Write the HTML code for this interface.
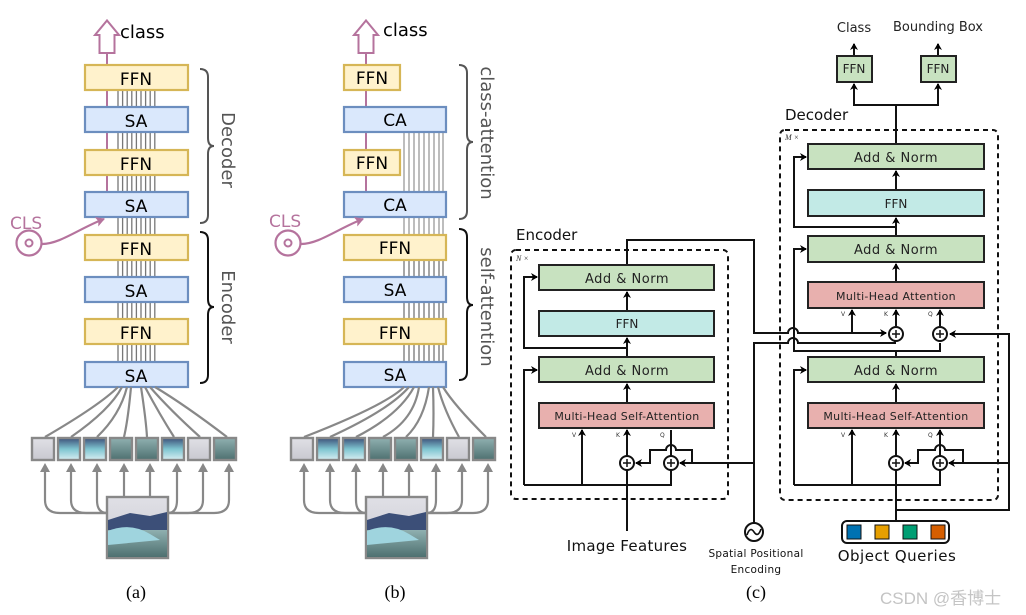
<!DOCTYPE html>
<html><head><meta charset="utf-8"><style>
html,body{margin:0;padding:0;background:#fff;}
svg{display:block;}
</style></head><body>
<svg width="1026" height="615" viewBox="0 0 1026 615" xmlns="http://www.w3.org/2000/svg" font-family="DejaVu Sans, Liberation Sans, sans-serif">
<defs>
<marker id="ah" markerWidth="8" markerHeight="8" refX="6" refY="4" orient="auto" markerUnits="userSpaceOnUse"><path d="M0,0 L7,4 L0,8 L2,4 Z" fill="#000"/></marker>
<marker id="ap" markerWidth="10" markerHeight="10" refX="8" refY="5" orient="auto" markerUnits="userSpaceOnUse"><path d="M0,0 L9,5 L0,10 L2,5 Z" fill="#b5739d"/></marker>
<linearGradient id="sky" x1="0" y1="0" x2="0" y2="1"><stop offset="0" stop-color="#e0e0e6"/><stop offset="1" stop-color="#c8c8d0"/></linearGradient>
<linearGradient id="sea" x1="0" y1="0" x2="0" y2="1"><stop offset="0" stop-color="#8fb0b0"/><stop offset="1" stop-color="#4e7070"/></linearGradient>
<linearGradient id="ice" x1="0" y1="0" x2="0" y2="1"><stop offset="0" stop-color="#3c4f78"/><stop offset="0.5" stop-color="#7ec4d0"/><stop offset="1" stop-color="#d8eef2"/></linearGradient>
</defs>

<g id="panelA">
  <g stroke="#777" stroke-width="1.3">
    <line x1="118" y1="65" x2="118" y2="387"/><line x1="122.6" y1="65" x2="122.6" y2="387"/>
    <line x1="127.2" y1="65" x2="127.2" y2="387"/><line x1="131.8" y1="65" x2="131.8" y2="387"/>
    <line x1="136.4" y1="65" x2="136.4" y2="387"/><line x1="141" y1="65" x2="141" y2="387"/>
    <line x1="145.6" y1="65" x2="145.6" y2="387"/><line x1="150.2" y1="65" x2="150.2" y2="387"/>
    <line x1="154.8" y1="65" x2="154.8" y2="387"/>
  </g>
  <line x1="107" y1="53" x2="107" y2="192" stroke="#b5739d" stroke-width="2"/>
  <path d="M99.5 53 V35 H95 L107 20.5 L119 35 H114.5 V53 Z" fill="#fff" stroke="#b5739d" stroke-width="2"/>
  <text x="120" y="38" font-size="18" fill="#000">class</text>
  <g stroke-width="2.2">
    <rect x="85" y="65" width="103" height="25" fill="#fff2cc" stroke="#d6b656"/>
    <rect x="85" y="107" width="103" height="25" fill="#dae8fc" stroke="#6c8ebf"/>
    <rect x="85" y="150" width="103" height="25" fill="#fff2cc" stroke="#d6b656"/>
    <rect x="85" y="192" width="103" height="25" fill="#dae8fc" stroke="#6c8ebf"/>
    <rect x="85" y="235" width="103" height="25" fill="#fff2cc" stroke="#d6b656"/>
    <rect x="85" y="277" width="103" height="25" fill="#dae8fc" stroke="#6c8ebf"/>
    <rect x="85" y="319" width="103" height="25" fill="#fff2cc" stroke="#d6b656"/>
    <rect x="85" y="362" width="103" height="25" fill="#dae8fc" stroke="#6c8ebf"/>
  </g>
  <g font-size="17" text-anchor="middle" fill="#000">
    <text x="136" y="85">FFN</text><text x="136" y="127">SA</text>
    <text x="136" y="170">FFN</text><text x="136" y="212">SA</text>
    <text x="136" y="255">FFN</text><text x="136" y="297">SA</text>
    <text x="136" y="339">FFN</text><text x="136" y="382">SA</text>
  </g>
  <path d="M200 69 Q208 69 208 77 V138 Q208 146 214 146 Q208 146 208 154 V215 Q208 223 200 223" fill="none" stroke="#555" stroke-width="2"/>
  <path d="M200 232 Q208 232 208 240 V299 Q208 307 214 307 Q208 307 208 315 V375 Q208 383 200 383" fill="none" stroke="#111" stroke-width="2"/>
  <text transform="translate(222,150) rotate(90)" font-size="18" fill="#555" text-anchor="middle">Decoder</text>
  <text transform="translate(222,307) rotate(90)" font-size="18" fill="#555" text-anchor="middle">Encoder</text>
  <text x="10" y="229" font-size="17" fill="#b5739d">CLS</text>
  <circle cx="29" cy="243" r="12.5" fill="#fff" stroke="#b5739d" stroke-width="2.2"/>
  <circle cx="29" cy="243" r="3.5" fill="none" stroke="#b5739d" stroke-width="2"/>
  <path d="M42 244 C60 244 80 228 104 219" fill="none" stroke="#b5739d" stroke-width="2.2" marker-end="url(#ap)"/>
</g>

<g id="panelB">
  <g stroke="#999" stroke-width="1.3">
    <line x1="404" y1="132" x2="404" y2="235"/><line x1="409" y1="132" x2="409" y2="235"/>
    <line x1="414" y1="132" x2="414" y2="235"/><line x1="419" y1="132" x2="419" y2="235"/>
    <line x1="424" y1="132" x2="424" y2="235"/><line x1="429" y1="132" x2="429" y2="235"/>
    <line x1="434" y1="132" x2="434" y2="235"/><line x1="439" y1="132" x2="439" y2="235"/>
    <line x1="443" y1="132" x2="443" y2="235"/>
  </g>
  <g stroke="#777" stroke-width="1.3">
    <line x1="404" y1="235" x2="404" y2="387"/><line x1="409" y1="235" x2="409" y2="387"/>
    <line x1="414" y1="235" x2="414" y2="387"/><line x1="419" y1="235" x2="419" y2="387"/>
    <line x1="424" y1="235" x2="424" y2="387"/><line x1="429" y1="235" x2="429" y2="387"/>
    <line x1="434" y1="235" x2="434" y2="387"/><line x1="439" y1="235" x2="439" y2="387"/>
    <line x1="443" y1="235" x2="443" y2="387"/>
  </g>
  <line x1="366" y1="53" x2="366" y2="192" stroke="#b5739d" stroke-width="2"/>
  <path d="M358.5 53 V35 H354 L366 20.5 L378 35 H373.5 V53 Z" fill="#fff" stroke="#b5739d" stroke-width="2"/>
  <text x="383" y="36" font-size="18" fill="#000">class</text>
  <g stroke-width="2.2">
    <rect x="344" y="65" width="56" height="25" fill="#fff2cc" stroke="#d6b656"/>
    <rect x="344" y="107" width="102" height="25" fill="#dae8fc" stroke="#6c8ebf"/>
    <rect x="344" y="150" width="56" height="25" fill="#fff2cc" stroke="#d6b656"/>
    <rect x="344" y="192" width="102" height="25" fill="#dae8fc" stroke="#6c8ebf"/>
    <rect x="344" y="235" width="102" height="25" fill="#fff2cc" stroke="#d6b656"/>
    <rect x="344" y="277" width="102" height="25" fill="#dae8fc" stroke="#6c8ebf"/>
    <rect x="344" y="319" width="102" height="25" fill="#fff2cc" stroke="#d6b656"/>
    <rect x="344" y="362" width="102" height="25" fill="#dae8fc" stroke="#6c8ebf"/>
  </g>
  <g font-size="17" text-anchor="middle" fill="#000">
    <text x="372" y="84">FFN</text><text x="395" y="126">CA</text>
    <text x="372" y="169">FFN</text><text x="395" y="211">CA</text>
    <text x="395" y="254">FFN</text><text x="395" y="296">SA</text>
    <text x="395" y="339">FFN</text><text x="395" y="381">SA</text>
  </g>
  <path d="M459 65 Q467 65 467 73 V134 Q467 142 473 142 Q467 142 467 150 V211 Q467 219 459 219" fill="none" stroke="#555" stroke-width="2"/>
  <path d="M459 229 Q467 229 467 237 V297 Q467 305 473 305 Q467 305 467 313 V372 Q467 380 459 380" fill="none" stroke="#111" stroke-width="2"/>
  <text transform="translate(481,133) rotate(90)" font-size="18" fill="#555" text-anchor="middle">class-attention</text>
  <text transform="translate(481,307) rotate(90)" font-size="18" fill="#555" text-anchor="middle">self-attention</text>
  <text x="269" y="227" font-size="17" fill="#b5739d">CLS</text>
  <circle cx="288" cy="243" r="12.5" fill="#fff" stroke="#b5739d" stroke-width="2.2"/>
  <circle cx="288" cy="243" r="3.5" fill="none" stroke="#b5739d" stroke-width="2"/>
  <path d="M301 244 C319 244 339 228 363 219" fill="none" stroke="#b5739d" stroke-width="2.2" marker-end="url(#ap)"/>
</g>

<g id="patchesA">
  <g fill="none" stroke="#888" stroke-width="2.2">
    <path d="M118 387 Q100 405 45 437"/><path d="M122 387 Q110 410 71 437"/>
    <path d="M127 387 Q120 415 97 437"/><path d="M131 387 Q128 420 124 437"/>
    <path d="M141 387 Q146 420 147 437"/><path d="M145 387 Q160 415 174 437"/>
    <path d="M150 387 Q170 410 200 437"/><path d="M155 387 Q185 405 227 437"/>
  </g>
  <g stroke="#888" stroke-width="2.4">
    <rect x="32" y="438" width="22" height="22" fill="url(#sky)"/>
    <rect x="58" y="438" width="22" height="22" fill="url(#ice)"/>
    <rect x="84" y="438" width="22" height="22" fill="url(#ice)"/>
    <rect x="110" y="438" width="22" height="22" fill="url(#sea)"/>
    <rect x="136" y="438" width="22" height="22" fill="url(#sea)"/>
    <rect x="162" y="438" width="22" height="22" fill="url(#ice)"/>
    <rect x="188" y="438" width="22" height="22" fill="url(#sky)"/>
    <rect x="214" y="438" width="22" height="22" fill="url(#sea)"/>
  </g>
  <g fill="none" stroke="#888" stroke-width="2.2">
    <path d="M45 470 V500 Q45 513 60 513 H107"/><path d="M71 470 V500 Q71 513 86 513 H107"/>
    <path d="M97 470 V500 Q97 513 107 513"/>
    <path d="M124 470 V496"/><path d="M150 470 V496"/>
    <path d="M177 470 V500 Q177 513 168 513"/>
    <path d="M203 470 V500 Q203 513 188 513 H168"/><path d="M229 470 V500 Q229 513 214 513 H168"/>
  </g>
  <g fill="#888">
    <path d="M40 472 L45 463 L50 472 Z"/><path d="M66 472 L71 463 L76 472 Z"/>
    <path d="M92 472 L97 463 L102 472 Z"/><path d="M119 472 L124 463 L129 472 Z"/>
    <path d="M145 472 L150 463 L155 472 Z"/><path d="M172 472 L177 463 L182 472 Z"/>
    <path d="M198 472 L203 463 L208 472 Z"/><path d="M224 472 L229 463 L234 472 Z"/>
  </g>
  <rect x="107" y="497" width="61" height="61" fill="url(#sky)" stroke="#888" stroke-width="2.4"/>
  <path d="M108 520 L130 513 L150 516 L167 512 L167 530 L108 532 Z" fill="#3c4f78"/>
  <rect x="108" y="530" width="59" height="27" fill="url(#sea)"/>
  <path d="M108 531 Q130 522 150 534 L160 540 L108 545 Z" fill="#9fd4de"/>
</g>

<g id="patchesB" transform="translate(259,0)">
  <g fill="none" stroke="#888" stroke-width="2.2">
    <path d="M145 387 Q127 405 45 437"/><path d="M150 387 Q130 410 71 437"/>
    <path d="M155 387 Q140 415 97 437"/><path d="M160 387 Q155 420 124 437"/>
    <path d="M170 387 Q165 420 147 437"/><path d="M174 387 Q175 415 174 437"/>
    <path d="M179 387 Q185 410 200 437"/><path d="M184 387 Q195 405 227 437"/>
  </g>
  <g stroke="#888" stroke-width="2.4">
    <rect x="32" y="438" width="22" height="22" fill="url(#sky)"/>
    <rect x="58" y="438" width="22" height="22" fill="url(#ice)"/>
    <rect x="84" y="438" width="22" height="22" fill="url(#ice)"/>
    <rect x="110" y="438" width="22" height="22" fill="url(#sea)"/>
    <rect x="136" y="438" width="22" height="22" fill="url(#sea)"/>
    <rect x="162" y="438" width="22" height="22" fill="url(#ice)"/>
    <rect x="188" y="438" width="22" height="22" fill="url(#sky)"/>
    <rect x="214" y="438" width="22" height="22" fill="url(#sea)"/>
  </g>
  <g fill="none" stroke="#888" stroke-width="2.2">
    <path d="M45 470 V500 Q45 513 60 513 H107"/><path d="M71 470 V500 Q71 513 86 513 H107"/>
    <path d="M97 470 V500 Q97 513 107 513"/>
    <path d="M124 470 V496"/><path d="M150 470 V496"/>
    <path d="M177 470 V500 Q177 513 168 513"/>
    <path d="M203 470 V500 Q203 513 188 513 H168"/><path d="M229 470 V500 Q229 513 214 513 H168"/>
  </g>
  <g fill="#888">
    <path d="M40 472 L45 463 L50 472 Z"/><path d="M66 472 L71 463 L76 472 Z"/>
    <path d="M92 472 L97 463 L102 472 Z"/><path d="M119 472 L124 463 L129 472 Z"/>
    <path d="M145 472 L150 463 L155 472 Z"/><path d="M172 472 L177 463 L182 472 Z"/>
    <path d="M198 472 L203 463 L208 472 Z"/><path d="M224 472 L229 463 L234 472 Z"/>
  </g>
  <rect x="107" y="497" width="61" height="61" fill="url(#sky)" stroke="#888" stroke-width="2.4"/>
  <path d="M108 520 L130 513 L150 516 L167 512 L167 530 L108 532 Z" fill="#3c4f78"/>
  <rect x="108" y="530" width="59" height="27" fill="url(#sea)"/>
  <path d="M108 531 Q130 522 150 534 L160 540 L108 545 Z" fill="#9fd4de"/>
</g>
<text x="136" y="598" font-size="18" font-family="Liberation Serif, serif" text-anchor="middle">(a)</text>
<text x="395" y="598" font-size="18" font-family="Liberation Serif, serif" text-anchor="middle">(b)</text>

<g id="panelC" font-family="DejaVu Sans, sans-serif">
  <rect x="511" y="250" width="217" height="249" rx="5" fill="none" stroke="#111" stroke-width="2" stroke-dasharray="5,4"/>
  <rect x="780" y="130" width="218" height="370" rx="5" fill="none" stroke="#111" stroke-width="2" stroke-dasharray="5,4"/>
  <text x="516" y="240" font-size="15" fill="#111">Encoder</text>
  <text x="785" y="120" font-size="15" fill="#111">Decoder</text>
  <text x="516" y="261" font-size="8" font-style="italic" font-family="Liberation Serif, serif" fill="#333">N ×</text>
  <text x="785" y="140" font-size="8" font-style="italic" font-family="Liberation Serif, serif" fill="#333">M ×</text>

  <g fill="none" stroke="#111" stroke-width="2">
    <path d="M627 531 V430" marker-end="url(#ah)"/>
    <path d="M524 485 H671 V430" />
    <path d="M582 485 V430" marker-end="url(#ah)"/>
    <path d="M524 485 V370 H537" marker-end="url(#ah)"/>
    <path d="M627 403 V384" marker-end="url(#ah)"/>
    <path d="M627 357 V338" marker-end="url(#ah)"/>
    <path d="M627 348 H524 V277 H537" marker-end="url(#ah)"/>
    <path d="M627 310 V292" marker-end="url(#ah)"/>
    <path d="M627 264 V240 H754 V333 H788 A5 5 0 0 1 798 333 H886" marker-end="url(#ah)"/>
    <path d="M852 333 V310" marker-end="url(#ah)"/>
    <path d="M754 523 V343 H788 A5 5 0 0 1 798 343 H895 V341"/>
    <path d="M754 463 H680" marker-end="url(#ah)"/>
    <path d="M692 463 V450 H676 A5 5 0 0 0 666 450 H650 V463 H636" marker-end="url(#ah)"/>
    <path d="M896 521 V510 H1009 V334 H950" marker-end="url(#ah)"/>
    <path d="M1009 463 H949" marker-end="url(#ah)"/>
    <path d="M896 510 V430" marker-end="url(#ah)"/>
    <path d="M794 485 H940 V430" marker-end="url(#ah)"/>
    <path d="M852 485 V430" marker-end="url(#ah)"/>
    <path d="M794 485 V370 H806" marker-end="url(#ah)"/>
    <path d="M963 463 V450 H945 A5 5 0 0 0 935 450 H918 V463 H905" marker-end="url(#ah)"/>
    <path d="M896 403 V384" marker-end="url(#ah)"/>
    <path d="M896 357 V351 H940 V343"/>
    <path d="M896 351 H794 V249 H806" marker-end="url(#ah)"/>
    <path d="M896 326 V310" marker-end="url(#ah)"/>
    <path d="M940 326 V310" marker-end="url(#ah)"/>
    <path d="M896 282 V264" marker-end="url(#ah)"/>
    <path d="M896 236 V218" marker-end="url(#ah)"/>
    <path d="M896 227 H794 V157 H806" marker-end="url(#ah)"/>
    <path d="M896 190 V171" marker-end="url(#ah)"/>
    <path d="M896 144 V105 H854 V84" marker-end="url(#ah)"/>
    <path d="M896 105 H938 V84" marker-end="url(#ah)"/>
    <path d="M854 55 V44" marker-end="url(#ah)"/>
    <path d="M938 55 V44" marker-end="url(#ah)"/>
  </g>

  <g fill="#fff" stroke="#111" stroke-width="2">
    <circle cx="627" cy="463" r="7"/><circle cx="671" cy="463" r="7"/>
    <circle cx="896" cy="463" r="7"/><circle cx="940" cy="463" r="7"/>
    <circle cx="896" cy="334" r="7"/><circle cx="940" cy="334" r="7"/>
  </g>
  <g stroke="#111" stroke-width="1.5">
    <path d="M623 463 H631 M627 459 V467"/><path d="M667 463 H675 M671 459 V467"/>
    <path d="M892 463 H900 M896 459 V467"/><path d="M936 463 H944 M940 459 V467"/>
    <path d="M892 334 H900 M896 330 V338"/><path d="M936 334 H944 M940 330 V338"/>
  </g>
  <circle cx="754" cy="532" r="9" fill="#fff" stroke="#111" stroke-width="2"/>
  <path d="M747 535 Q750 526 754 532 Q758 538 761 529" fill="none" stroke="#111" stroke-width="1.6"/>

  <g stroke="#222" stroke-width="2">
    <rect x="539" y="265" width="175" height="25" fill="#c8e2c0"/>
    <rect x="539" y="311" width="175" height="25" fill="#c2eae6"/>
    <rect x="539" y="357" width="175" height="25" fill="#c8e2c0"/>
    <rect x="539" y="403" width="175" height="25" fill="#e8b0ae"/>
    <rect x="808" y="144" width="176" height="25" fill="#c8e2c0"/>
    <rect x="808" y="190" width="176" height="26" fill="#c2eae6"/>
    <rect x="808" y="236" width="176" height="26" fill="#c8e2c0"/>
    <rect x="808" y="282" width="176" height="26" fill="#e8b0ae"/>
    <rect x="808" y="357" width="176" height="25" fill="#c8e2c0"/>
    <rect x="808" y="403" width="176" height="25" fill="#e8b0ae"/>
    <rect x="837" y="56" width="35" height="26" fill="#c8e2c0"/>
    <rect x="921" y="56" width="35" height="26" fill="#c8e2c0"/>
  </g>
  <g text-anchor="middle" fill="#222">
    <text x="627" y="283" font-size="13" letter-spacing="0.5">Add &amp; Norm</text>
    <text x="627" y="328" font-size="12">FFN</text>
    <text x="627" y="375" font-size="13" letter-spacing="0.5">Add &amp; Norm</text>
    <text x="627" y="420" font-size="11" letter-spacing="0.3">Multi-Head Self-Attention</text>
    <text x="896" y="162" font-size="13" letter-spacing="0.5">Add &amp; Norm</text>
    <text x="896" y="208" font-size="12">FFN</text>
    <text x="896" y="254" font-size="13" letter-spacing="0.5">Add &amp; Norm</text>
    <text x="896" y="300" font-size="11" letter-spacing="0.3">Multi-Head Attention</text>
    <text x="896" y="375" font-size="13" letter-spacing="0.5">Add &amp; Norm</text>
    <text x="896" y="420" font-size="11" letter-spacing="0.3">Multi-Head Self-Attention</text>
    <text x="854" y="73" font-size="12">FFN</text>
    <text x="938" y="73" font-size="12">FFN</text>
    <text x="854" y="32" font-size="13">Class</text>
    <text x="938" y="31" font-size="13">Bounding Box</text>
  </g>
  <g font-size="6" fill="#333">
    <text x="572" y="437">V</text><text x="616" y="437">K</text><text x="660" y="437">Q</text>
    <text x="841" y="316">V</text><text x="884" y="316">K</text><text x="928" y="316">Q</text>
    <text x="841" y="437">V</text><text x="884" y="437">K</text><text x="928" y="437">Q</text>
  </g>
  <rect x="842" y="521" width="107" height="22" rx="5" fill="#fff" stroke="#111" stroke-width="2"/>
  <rect x="847" y="525" width="14" height="14" fill="#0072b2" stroke="#111" stroke-width="1"/>
  <rect x="875" y="525" width="14" height="14" fill="#e69f00" stroke="#111" stroke-width="1"/>
  <rect x="903" y="525" width="14" height="14" fill="#009e73" stroke="#111" stroke-width="1"/>
  <rect x="931" y="525" width="14" height="14" fill="#d55e00" stroke="#111" stroke-width="1"/>
  <text x="627" y="551" font-size="15" text-anchor="middle" fill="#111" letter-spacing="0.3">Image Features</text>
  <text x="756" y="557" font-size="10.5" text-anchor="middle" fill="#111" letter-spacing="0.3">Spatial  Positional</text>
  <text x="756" y="573" font-size="10.5" text-anchor="middle" fill="#111" letter-spacing="0.3">Encoding</text>
  <text x="897" y="561" font-size="15" text-anchor="middle" fill="#111" letter-spacing="0.5">Object Queries</text>
  <text x="756" y="598" font-size="18" font-family="Liberation Serif, serif" text-anchor="middle">(c)</text>
  <text x="880" y="604" font-size="17" fill="#c4c4c4" font-family="Liberation Sans, 'Noto Sans CJK SC', sans-serif">CSDN @香博士</text>
</g>
</svg>
</body></html>
